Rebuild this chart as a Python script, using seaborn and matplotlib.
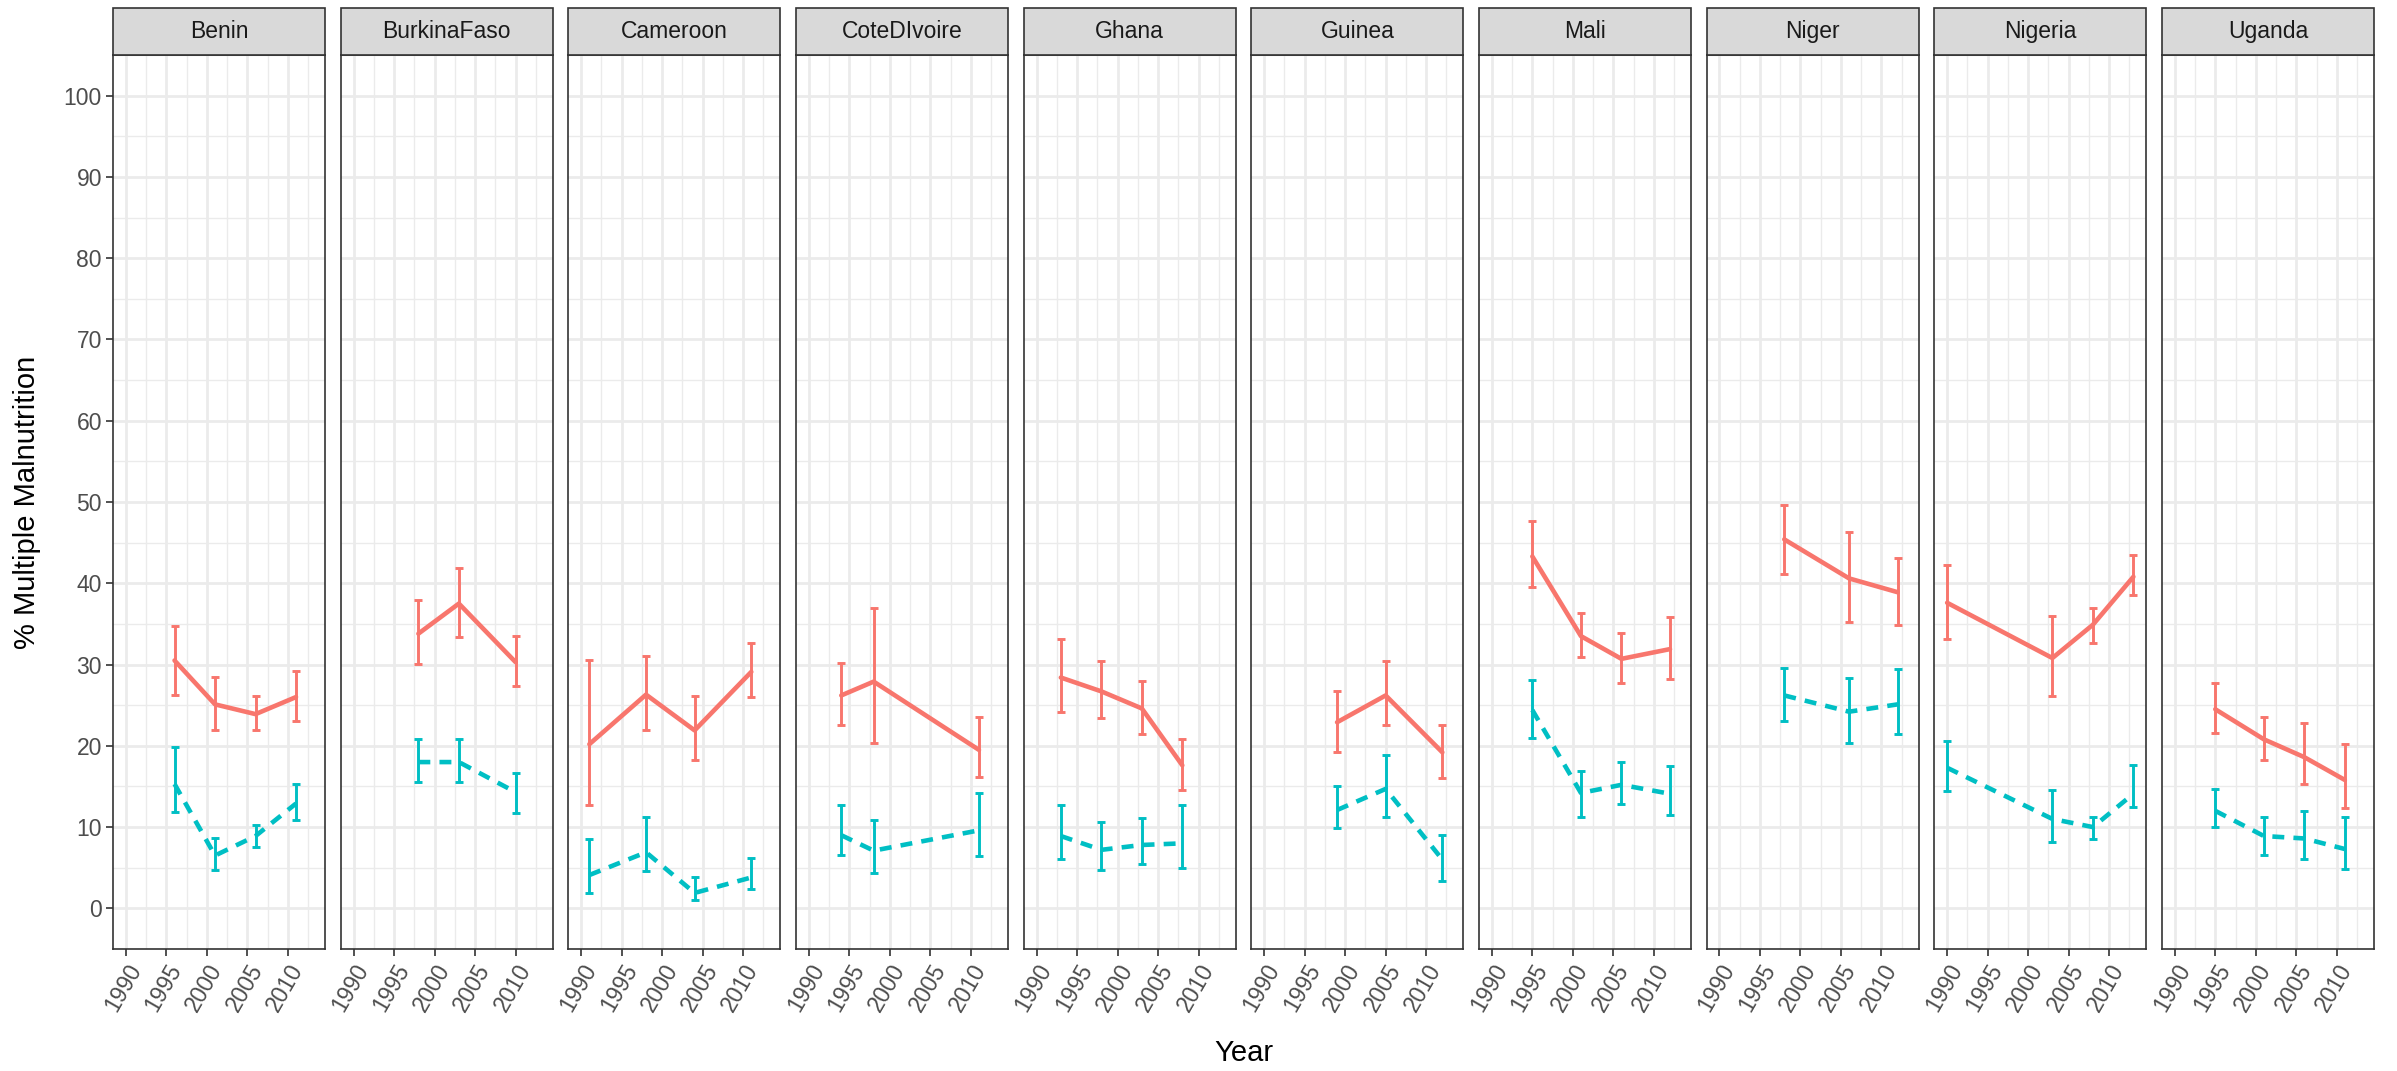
import numpy as np
import pandas as pd
import matplotlib
matplotlib.use("Agg")
import matplotlib.pyplot as plt
from matplotlib.patches import Rectangle
import seaborn as sns

# ---------------- data ----------------
countries = ["Benin", "BurkinaFaso", "Cameroon", "CoteDIvoire", "Ghana",
             "Guinea", "Mali", "Niger", "Nigeria", "Uganda"]

row_country = (["Benin"] * 4 + ["BurkinaFaso"] * 3 + ["Cameroon"] * 4 +
               ["CoteDIvoire"] * 3 + ["Ghana"] * 4 + ["Guinea"] * 3 +
               ["Mali"] * 4 + ["Niger"] * 3 + ["Nigeria"] * 4 + ["Uganda"] * 4)
row_year = [1996, 2001, 2006, 2011,
            1998, 2003, 2010,
            1991, 1998, 2004, 2011,
            1994, 1998, 2011,
            1993, 1998, 2003, 2008,
            1999, 2005, 2012,
            1995, 2001, 2006, 2012,
            1998, 2006, 2012,
            1990, 2003, 2008, 2013,
            1995, 2001, 2006, 2011]

red_val = [30.5, 25.1, 23.9, 26.0,
           33.8, 37.5, 30.3,
           20.2, 26.3, 21.9, 29.1,
           26.2, 27.9, 19.5,
           28.4, 26.7, 24.6, 17.6,
           22.9, 26.2, 19.2,
           43.3, 33.5, 30.7, 31.9,
           45.4, 40.6, 38.9,
           37.6, 30.8, 34.9, 40.8,
           24.5, 20.8, 18.6, 15.8]
red_lo = [26.3, 22.0, 22.0, 23.1,
          30.1, 33.4, 27.4,
          12.7, 22.0, 18.2, 26.0,
          22.6, 20.3, 16.2,
          24.2, 23.4, 21.4, 14.6,
          19.3, 22.6, 16.1,
          39.5, 30.9, 27.7, 28.2,
          41.2, 35.2, 34.9,
          33.1, 26.1, 32.7, 38.5,
          21.6, 18.2, 15.3, 12.4]
red_hi = [34.8, 28.5, 26.1, 29.2,
          37.9, 41.9, 33.5,
          30.5, 31.1, 26.1, 32.7,
          30.2, 37.0, 23.5,
          33.1, 30.4, 28.0, 20.9,
          26.7, 30.4, 22.6,
          47.7, 36.3, 33.9, 35.9,
          49.6, 46.3, 43.1,
          42.3, 36.0, 37.0, 43.5,
          27.7, 23.6, 22.8, 20.2]

teal_val = [15.3, 6.5, 8.9, 12.9,
            18.0, 18.0, 14.3,
            4.1, 6.9, 1.9, 3.8,
            9.0, 7.1, 9.6,
            8.9, 7.2, 7.8, 8.0,
            12.1, 14.7, 6.0,
            24.4, 14.2, 15.2, 14.1,
            26.2, 24.2, 25.1,
            17.3, 11.0, 10.0, 14.1,
            12.0, 8.9, 8.6, 7.3]
teal_lo = [11.8, 4.7, 7.6, 10.9,
           15.5, 15.5, 11.7,
           1.9, 4.6, 1.0, 2.4,
           6.6, 4.4, 6.4,
           6.1, 4.7, 5.5, 5.0,
           9.9, 11.3, 3.4,
           21.0, 11.2, 12.8, 11.5,
           23.1, 20.4, 21.4,
           14.4, 8.2, 8.5, 12.5,
           10.0, 6.6, 6.1, 4.9]
teal_hi = [19.9, 8.7, 10.3, 15.3,
           20.9, 20.8, 16.6,
           8.5, 11.3, 3.8, 6.2,
           12.7, 10.9, 14.2,
           12.7, 10.6, 11.1, 12.7,
           15.0, 18.9, 9.0,
           28.1, 16.9, 18.0, 17.5,
           29.6, 28.4, 29.4,
           20.6, 14.6, 11.2, 17.6,
           14.7, 11.2, 12.0, 11.2]

group_names = ["Group 1", "Group 2"]
y_ticks = [0, 10, 20, 30, 40, 50, 60, 70, 80, 90, 100]
x_ticks = [1990, 1995, 2000, 2005, 2010]

# ---------------- tidy frame ----------------
df = pd.concat([
    pd.DataFrame({"country": row_country, "year": row_year, "group": group_names[0],
                  "value": red_val, "lo": red_lo, "hi": red_hi}),
    pd.DataFrame({"country": row_country, "year": row_year, "group": group_names[1],
                  "value": teal_val, "lo": teal_lo, "hi": teal_hi}),
], ignore_index=True)

# ---------------- style ----------------
sns.set_theme(style="white")
plt.rcParams["font.family"] = ["Liberation Sans", "DejaVu Sans"]

palette = {group_names[0]: "#F8766D", group_names[1]: "#00BFC4"}
dashes = {group_names[0]: "", group_names[1]: (2.6, 2.0)}

W, H, DPI = 2397, 1071, 100
fig, axes = plt.subplots(1, len(countries), sharey=True,
                         figsize=(W / DPI, H / DPI), dpi=DPI)
fig.subplots_adjust(left=113 / W, right=2374 / W, top=1 - 55 / H,
                    bottom=1 - 949 / H, wspace=0.073)

border = "#333333"
tick_col = "#4D4D4D"
fs = 16.5
strip_h = 47.5 / 894

for i, (ax, c) in enumerate(zip(axes, countries)):
    sub = df[df["country"] == c]
    # grid
    for yv in np.arange(-5, 106, 5):
        ax.axhline(yv, color="#EBEBEB", lw=2.0 if yv % 10 == 0 else 1.0, zorder=0)
    for xv in np.arange(1987.5, 2015, 2.5):
        ax.axvline(xv, color="#EBEBEB", lw=2.0 if xv % 5 == 0 else 1.0, zorder=0)
    # error bars
    for g in group_names:
        s = sub[sub["group"] == g]
        ax.errorbar(s["year"], s["value"],
                    yerr=[s["value"] - s["lo"], s["hi"] - s["value"]],
                    fmt="none", ecolor=palette[g], elinewidth=2.1,
                    capsize=3.2, capthick=2.1, zorder=2)
    sns.lineplot(data=sub, x="year", y="value", hue="group", style="group",
                 hue_order=group_names, style_order=group_names,
                 palette=palette, dashes=dashes, linewidth=3.3,
                 legend=False, ax=ax, zorder=3, sort=True)
    ax.set_xlim(1988.4, 2014.6)
    ax.set_ylim(-5, 105)
    ax.set_xticks(x_ticks)
    ax.set_xticklabels([str(x) for x in x_ticks], rotation=60, ha="right",
                       rotation_mode="anchor", fontsize=fs, color=tick_col)
    ax.set_yticks(y_ticks)
    ax.grid(False)
    ax.set_xlabel("")
    ax.set_ylabel("")
    for sp in ax.spines.values():
        sp.set_visible(True)
        sp.set_color(border)
        sp.set_linewidth(1.2)
    ax.tick_params(axis="x", bottom=True, length=5, width=1.2, color=border,
                   pad=3, labelsize=fs, labelcolor=tick_col)
    if i == 0:
        ax.tick_params(axis="y", left=True, length=5, width=1.2, color=border,
                       pad=3, labelsize=fs, labelcolor=tick_col)
    else:
        ax.tick_params(axis="y", left=False, labelleft=False)
    # strip
    ax.add_patch(Rectangle((0, 1), 1, strip_h, transform=ax.transAxes,
                           facecolor="#D9D9D9", edgecolor=border, lw=1.2,
                           clip_on=False, zorder=5))
    ax.text(0.5, 1 + strip_h / 2, c, transform=ax.transAxes, ha="center",
            va="center", fontsize=fs, color="#1A1A1A", zorder=6)

axes[0].set_yticklabels([str(v) for v in y_ticks], fontsize=fs, color=tick_col)
fig.text((113 + 2374) / 2 / W, 1 - 1053 / H, "Year", ha="center", va="center",
         fontsize=21, color="black")
fig.text(27 / W, 1 - ((55 + 949) / 2) / H, "% Multiple Malnutrition",
         rotation=90, ha="center", va="center", fontsize=21, color="black")

fig.savefig("out.png", dpi=DPI)
